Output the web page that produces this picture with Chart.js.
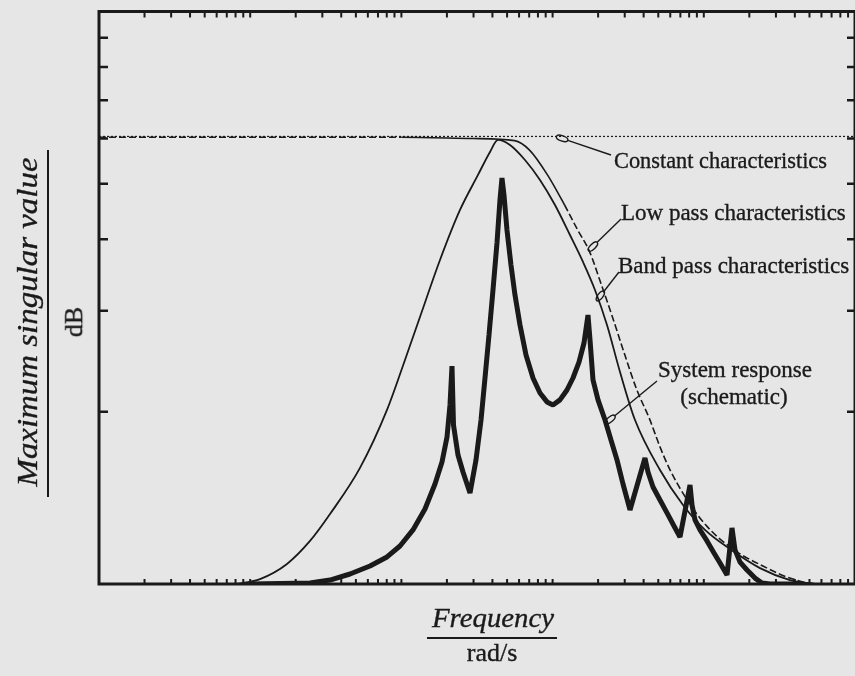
<!DOCTYPE html>
<html><head><meta charset="utf-8">
<script src="https://cdn.jsdelivr.net/npm/chart.js@4.4.1/dist/chart.umd.min.js"></script>
<style>
html,body{margin:0;padding:0;background:#e6e6e6;}
#wrap{position:relative;width:855px;height:676px;overflow:hidden;background:#e6e6e6;}
canvas{position:absolute;left:0;top:0;}
.t{position:absolute;white-space:nowrap;font-family:"Liberation Serif","Times New Roman",serif;color:#1a1a1a;line-height:1;-webkit-text-stroke:0.35px #1a1a1a;}
.rule{position:absolute;background:#1a1a1a;}
</style></head><body>
<div id="wrap"><canvas id="c" width="855" height="676"></canvas></div>
<script>
// ---------- data (frequency in rad/s, log axis; gain on log axis) ----------
const constantFreq = [0.01, 1000];
const constantGain = [6.05, 6.05];

const lowPassFreq = [0.01, 1.0, 3.0, 5.6, 7.04, 9.27, 12.0, 14.64, 17.58, 20.48, 24.59, 29.99, 36.0, 43.88, 51.13, 59.53, 77.2, 104.7, 155.6, 245.9, 388.5, 586.5, 1000];
const lowPassGain = [6.03, 6.03, 6.0, 5.95, 5.727, 5.179, 4.592, 4.154, 3.804, 3.399, 2.954, 2.516, 2.186, 1.939, 1.740, 1.586, 1.406, 1.262, 1.151, 1.075, 1.020, 1.0, 1.0];

const bandPassFreq = [0.08177, 0.1161, 0.1751, 0.2486, 0.3372, 0.5323, 0.8031, 1.056, 1.327, 1.8, 2.441, 3.21, 3.854, 4.353, 5.226, 6.569, 8.254, 10.37, 13.03, 15.89, 19.07, 22.9, 27.92, 35.08, 51.33, 72.85, 101.8, 149.0, 235.3, 371.6, 543.8];
const bandPassGain = [1.0, 1.02, 1.084, 1.189, 1.325, 1.595, 2.014, 2.462, 2.927, 3.681, 4.501, 5.182, 5.684, 5.966, 5.847, 5.504, 5.079, 4.592, 4.07, 3.652, 3.263, 2.834, 2.346, 1.934, 1.582, 1.374, 1.243, 1.151, 1.066, 1.016, 1.0];

const systemFreq = [0.1, 0.2486, 0.3372, 0.4571, 0.62, 0.8031, 0.9789, 1.193, 1.432, 1.668, 1.856, 2.003, 2.096, 2.161, 2.211, 2.368, 2.555, 2.843,
  3.114, 3.362, 3.572, 3.796, 4.034, 4.287, 4.487, 4.626, 4.769, 4.992, 5.306, 5.639, 6.086, 6.67, 7.42, 8.254, 9.183, 10.06, 11.19, 12.45,
  13.64, 14.95, 16.13, 17.14, 17.68, 18.5, 19.97, 22.22, 24.33, 26.67, 29.22, 32.5, 40.83, 42.74, 46.14, 51.33, 57.1, 63.52, 69.6,
  81.06, 83.57, 87.47, 94.37, 105.0, 116.8, 128.0, 142.4, 153.6, 160.8, 173.6, 193.1, 218.1, 242.6, 274.1, 432.7];
const systemGain = [1.0, 1.004, 1.016, 1.041, 1.075, 1.115, 1.165, 1.243, 1.352, 1.495, 1.634, 1.806, 2.055, 2.403, 1.895, 1.68, 1.569, 1.442,
  1.647, 1.934, 2.29, 2.722, 3.263, 3.942, 4.686, 5.12, 4.781, 4.153, 3.607, 3.198, 2.834, 2.512, 2.29, 2.156, 2.08, 2.055, 2.097, 2.182,
  2.29, 2.442, 2.636, 2.95, 2.668, 2.272, 2.097, 1.934, 1.784, 1.647, 1.495, 1.347, 1.66, 1.569, 1.477, 1.402, 1.331, 1.263, 1.208,
  1.489, 1.374, 1.294, 1.243, 1.189, 1.133, 1.088, 1.037, 1.253, 1.147, 1.092, 1.058, 1.024, 1.004, 1.0, 1.0];

// axis tick values
const xDecades = [0.01, 0.1, 1, 10, 100];
const xTickMultipliers = [1, 2, 3, 4, 5, 6, 7, 8, 9];
const yTickValues = [2, 3, 4, 5, 6, 7, 8, 9];

const INK = '#1a1a1a';
const pts = (xs, ys) => xs.map((v, i) => ({x: v, y: ys[i]}));
const xTickValues = [];
xDecades.forEach(d => xTickMultipliers.forEach(m => xTickValues.push(d * m)));
xTickValues.push(1000);

// callouts: tip in data coordinates, leader start in pixels
const callouts = [
  {tip: [10.6, 6.05], from: [611, 155]},
  {tip: [17.3, 3.82], from: [621, 219]},
  {tip: [19.56, 3.125], from: [619, 272]},
  {tip: [22.4, 1.908], from: [657, 381]}
];

const framePlugin = {
  id: 'frameTicks',
  afterDatasetsDraw(chart) {
    const {ctx, chartArea: a, scales: {x, y}} = chart;
    ctx.save();
    ctx.strokeStyle = INK;
    ctx.lineCap = 'butt';
    ctx.lineWidth = 2;
    ctx.beginPath();
    xTickValues.forEach(v => {
      const px = x.getPixelForValue(v);
      if (px <= a.left + 2 || px >= a.right - 2) return;
      ctx.moveTo(px, a.top); ctx.lineTo(px, a.top + 6);
      ctx.moveTo(px, a.bottom); ctx.lineTo(px, a.bottom - 5);
    });
    ctx.stroke();
    ctx.lineWidth = 2.5;
    ctx.beginPath();
    yTickValues.forEach(v => {
      const py = y.getPixelForValue(v);
      ctx.moveTo(a.left, py); ctx.lineTo(a.left + 9, py);
      ctx.moveTo(a.right, py); ctx.lineTo(a.right - 8, py);
    });
    ctx.stroke();
    ctx.lineWidth = 3;
    ctx.strokeRect(a.left, a.top, a.right - a.left, a.bottom - a.top);
    ctx.lineWidth = 1.4;
    callouts.forEach(c => {
      const tx = x.getPixelForValue(c.tip[0]);
      const ty = y.getPixelForValue(c.tip[1]);
      const [sx, sy] = c.from;
      const dx = tx - sx, dy = ty - sy, L = Math.hypot(dx, dy);
      const ux = dx / L, uy = dy / L;
      const cx = tx - ux * 6, cy = ty - uy * 6;
      ctx.beginPath();
      ctx.moveTo(sx, sy);
      ctx.lineTo(cx - ux * 6, cy - uy * 6);
      ctx.stroke();
      ctx.beginPath();
      ctx.ellipse(cx, cy, 6, 2.6, Math.atan2(uy, ux), 0, Math.PI * 2);
      ctx.stroke();
    });
    ctx.restore();
  }
};

new Chart(document.getElementById('c'), {
  type: 'line',
  data: {
    datasets: [
      {label: 'System response', data: pts(systemFreq, systemGain), borderColor: INK, borderWidth: 5,
       pointRadius: 0, tension: 0, borderJoinStyle: 'bevel', borderCapStyle: 'butt'},
      {label: 'Band pass', data: pts(bandPassFreq, bandPassGain), borderColor: INK, borderWidth: 1.8,
       pointRadius: 0, cubicInterpolationMode: 'monotone'},
      {label: 'Low pass', data: pts(lowPassFreq, lowPassGain), borderColor: INK, borderWidth: 1.6,
       borderDash: [7, 3], pointRadius: 0, cubicInterpolationMode: 'monotone',
       segment: {borderDash: c => (c.p0.parsed.x >= 1 && c.p1.parsed.x <= 12.5) ? [] : undefined}},
      {label: 'Constant', data: pts(constantFreq, constantGain), borderColor: INK, borderWidth: 1.2,
       borderDash: [2, 2], pointRadius: 0}
    ]
  },
  options: {
    responsive: false, animation: false, devicePixelRatio: 1,
    layout: {padding: {left: 99, top: 11.5, right: 0, bottom: 92}},
    plugins: {legend: {display: false}, tooltip: {enabled: false}},
    scales: {
      x: {type: 'logarithmic', min: 0.01, max: 1000, display: false},
      y: {type: 'logarithmic', min: 1, max: 10, display: false}
    }
  },
  plugins: [framePlugin]
});

// ---------- text ----------
const wrap = document.getElementById('wrap');
const ASC = 0.8375;
function addText(str, o) {
  const el = document.createElement('div');
  el.className = 't';
  el.textContent = str;
  el.style.fontSize = o.size + 'px';
  if (o.italic) el.style.fontStyle = 'italic';
  wrap.appendChild(el);
  const w = el.getBoundingClientRect().width;
  const k = o.width ? o.width / w : 1;
  if (o.rotate) {
    el.style.left = (o.cx - w / 2) + 'px';
    el.style.top = (o.cy - o.size / 2) + 'px';
    el.style.transformOrigin = '50% 50%';
    el.style.transform = 'rotate(-90deg) scaleX(' + k + ')';
  } else {
    const left = o.cx !== undefined ? o.cx - w * k / 2 : o.left;
    el.style.left = left + 'px';
    el.style.top = (o.baseline - ASC * o.size) + 'px';
    el.style.transformOrigin = '0 50%';
    el.style.transform = 'scaleX(' + k + ')';
  }
  return el;
}
function addRule(l, t, w, h) {
  const r = document.createElement('div');
  r.className = 'rule';
  r.style.left = l + 'px'; r.style.top = t + 'px';
  r.style.width = w + 'px'; r.style.height = h + 'px';
  wrap.appendChild(r);
}

addText('Constant characteristics', {size: 23, left: 614, baseline: 168, width: 213});
addText('Low pass characteristics', {size: 23, left: 621, baseline: 220});
addText('Band pass characteristics', {size: 23, left: 618, baseline: 273});
addText('System response', {size: 23, left: 658, baseline: 377});
addText('(schematic)', {size: 23, cx: 734, baseline: 404});

addText('Frequency', {size: 28, italic: true, cx: 493, baseline: 627, width: 122});
addRule(427, 637, 130, 1.6);
addText('rad/s', {size: 26, cx: 492, baseline: 662});

addText('Maximum singular value', {size: 30, italic: true, rotate: true, cx: 27, cy: 322, width: 329});
addRule(47, 150, 1.6, 347);
addText('dB', {size: 26, rotate: true, cx: 74, cy: 322});
</script>
</body></html>
